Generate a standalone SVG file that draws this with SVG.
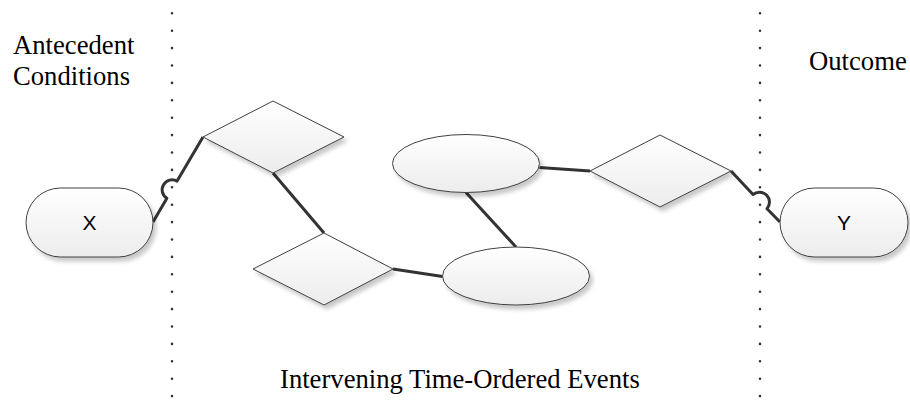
<svg xmlns="http://www.w3.org/2000/svg" width="910" height="400" viewBox="0 0 910 400">
  <defs>
    <linearGradient id="nodeFill" x1="0" y1="0" x2="0" y2="1">
      <stop offset="0" stop-color="#ffffff"/>
      <stop offset="1" stop-color="#ececec"/>
    </linearGradient>
    <filter id="shadow" x="-20%" y="-20%" width="150%" height="160%">
      <feGaussianBlur in="SourceAlpha" stdDeviation="2"/>
      <feOffset dx="3" dy="4" result="off"/>
      <feComponentTransfer>
        <feFuncA type="linear" slope="0.22"/>
      </feComponentTransfer>
      <feMerge>
        <feMergeNode/>
        <feMergeNode in="SourceGraphic"/>
      </feMerge>
    </filter>
    <style>
      .node { fill: url(#nodeFill); stroke: #404040; stroke-width: 1; filter: url(#shadow); }
      .conn { fill: none; stroke: #333333; stroke-width: 3; stroke-linejoin: round; }
      .divider { stroke: #333333; stroke-width: 2.6; stroke-linecap: round; stroke-dasharray: 0 17.4; }
      .label { font-family: "Liberation Serif", "Times New Roman", serif; font-size: 26.67px; fill: #000000; }
      .term { font-family: "Liberation Sans", Arial, sans-serif; font-size: 21px; fill: #000000; text-anchor: middle; }
    </style>
  </defs>

  <rect width="910" height="400" fill="#ffffff"/>

  <!-- phase dividers -->
  <g id="dividers">
    <line class="divider" x1="172" y1="13.3" x2="172" y2="400"/>
    <line class="divider" x1="760" y1="13.3" x2="760" y2="400"/>
  </g>

  <!-- phase labels -->
  <g id="labels">
    <text class="label" x="13" y="54">Antecedent</text>
    <text class="label" x="13" y="85">Conditions</text>
    <text class="label" x="809" y="70">Outcome</text>
    <text class="label" x="280" y="388">Intervening Time-Ordered Events</text>
  </g>

  <!-- connectors -->
  <g id="connectors">
    <path class="conn" d="M153,222 L166.9,198.3 A10,10 0 0 1 177.1,181.1 L203,137"/>
    <path class="conn" d="M273,173 L324,233"/>
    <path class="conn" d="M393,269 L442.5,276.5"/>
    <path class="conn" d="M466,192.5 L516,247"/>
    <path class="conn" d="M539.5,167.5 L590,171"/>
    <path class="conn" d="M731,171 L753,194.5 A10,10 0 0 1 767,208.7 L780,222"/>
  </g>

  <g id="node-x">
    <rect class="node" x="26" y="188" width="127" height="69" rx="34.5" ry="34.5"/>
    <text class="term" x="89.5" y="230">X</text>
  </g>

  <g id="node-d1">
    <polygon class="node" points="203,137 273,101 344,137 273,173"/>
  </g>

  <g id="node-d2">
    <polygon class="node" points="253,269 324,233 393,269 324,305"/>
  </g>

  <g id="node-e1">
    <ellipse class="node" cx="466" cy="163.5" rx="73.5" ry="29"/>
  </g>

  <g id="node-e2">
    <ellipse class="node" cx="516" cy="276" rx="73.5" ry="29"/>
  </g>

  <g id="node-d3">
    <polygon class="node" points="590,171 660,135 731,171 660,207"/>
  </g>

  <g id="node-y">
    <rect class="node" x="780" y="188" width="128" height="69" rx="34.5" ry="34.5"/>
    <text class="term" x="844" y="230">Y</text>
  </g>
</svg>
